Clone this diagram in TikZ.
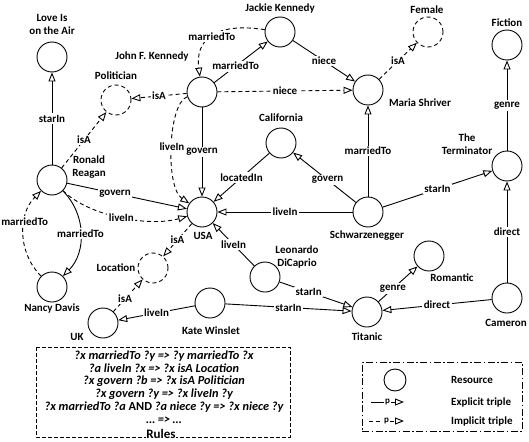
\documentclass[tikz,border=0pt]{standalone}
\usepackage{fontspec}
\setmainfont{Carlito}
\usetikzlibrary{arrows.meta,positioning}

\begin{document}
\begin{tikzpicture}[
  x=1pt,y=-1pt,
  font=\fontsize{11}{13}\selectfont\bfseries,
  res/.style={circle,draw,line width=0.9pt,minimum size=30pt,inner sep=0pt},
  inf/.style={res,dash pattern=on 4pt off 3pt},
  nm/.style={align=center,inner sep=1pt},
  lbl/.style={fill=white,inner sep=1.5pt},
  expl/.style={-{Triangle[open,length=9pt,width=7pt]},line width=0.9pt},
  impl/.style={expl,dash pattern=on 4pt off 3pt},
  legbox/.style={draw,line width=0.9pt,minimum width=160pt,minimum height=69pt,
               dash pattern=on 7pt off 2.5pt on 1.5pt off 2.5pt},
  legtext/.style={nm,anchor=west,font=\fontsize{11}{12}\selectfont\bfseries}
]
\useasboundingbox (0,0) rectangle (529,441);

% Resources
\node[res] (love) at (52,57) {};
\node[nm]  (love-n) at (52,24) {Love Is\\on the Air};
\node[inf] (pol) at (116,100) {};
\node[nm]  (pol-n) at (116,76) {Politician};
\node[res] (jfk) at (202,92) {};
\node[nm]  (jfk-n) at (152,57) {John F. Kennedy};
\node[res] (jac) at (280,32) {};
\node[nm]  (jac-n) at (280,9) {Jackie Kennedy};
\node[inf] (fem) at (428,32) {};
\node[nm]  (fem-n) at (427,10) {Female};
\node[res] (fic) at (507,45) {};
\node[nm]  (fic-n) at (507,23) {Fiction};
\node[res] (mar) at (368,90) {};
\node[nm]  (mar-n) at (420,103) {Maria Shriver};
\node[res] (rr) at (52,180) {};
\node[nm]  (rr-n) at (89,167) {Ronald\\Reagan};
\node[res] (cal) at (281,143) {};
\node[nm]  (cal-n) at (281,118) {California};
\node[res] (ter) at (507,166) {};
\node[nm]  (ter-n) at (467,144) {The\\Terminator};
\node[res] (usa) at (202,212) {};
\node[nm]  (usa-n) at (203,236) {USA};
\node[res] (sch) at (368,212) {};
\node[nm]  (sch-n) at (367,236) {Schwarzenegger};
\node[inf] (loc) at (153,268) {};
\node[nm]  (loc-n) at (116,268) {Location};
\node[res] (leo) at (265,277) {};
\node[nm]  (leo-n) at (297,257) {Leonardo\\DiCaprio};
\node[res] (rom) at (429,256) {};
\node[nm]  (rom-n) at (452,278) {Romantic};
\node[res] (nan) at (52,287) {};
\node[nm]  (nan-n) at (52,309) {Nancy Davis};
\node[res] (uk) at (103,323) {};
\node[nm]  (uk-n) at (77,337) {UK};
\node[res] (kat) at (210,303) {};
\node[nm]  (kat-n) at (211,331) {Kate Winslet};
\node[res] (tit) at (367,312) {};
\node[nm]  (tit-n) at (367,337) {Titanic};
\node[res] (cam) at (507,298) {};
\node[nm]  (cam-n) at (506,323) {Cameron};

% Explicit triples
\draw[expl] (rr) -- node[lbl]{starIn} (love);
\draw[expl] (rr) to[bend left=45] node[lbl]{marriedTo} (nan);
\draw[expl] (rr) -- node[lbl,pos=0.4]{govern} (usa);
\draw[expl] (jfk) -- node[lbl,pos=0.4]{marriedTo} (jac);
\draw[expl] (jfk) -- node[lbl]{govern} (usa);
\draw[expl] (jac) -- node[lbl]{niece} (mar);
\draw[expl] (sch) -- node[lbl]{marriedTo} (mar);
\draw[expl] (cal) -- node[lbl]{locatedIn} (usa);
\draw[expl] (sch) -- node[lbl,pos=0.45]{govern} (cal);
\draw[expl] (sch) -- node[lbl]{liveIn} (usa);
\draw[expl] (sch) -- node[lbl]{starIn} (ter);
\draw[expl] (ter) -- node[lbl]{genre} (fic);
\draw[expl] (cam) -- node[lbl]{direct} (ter);
\draw[expl] (cam) -- node[lbl]{direct} (tit);
\draw[expl] (tit) -- node[lbl,pos=0.37]{genre} (rom);
\draw[expl] (leo) -- node[lbl,pos=0.4]{starIn} (tit);
\draw[expl] (kat) -- node[lbl]{starIn} (tit);
\draw[expl] (leo) -- node[lbl]{liveIn} (usa);
\draw[expl] (kat) -- node[lbl]{liveIn} (uk);

% Implicit triples
\draw[impl] (rr) -- node[lbl]{isA} (pol);
\draw[impl] (nan) to[bend left=45] node[lbl,pos=0.63]{marriedTo} (rr);
\draw[impl] (rr) .. controls (90,217) and (150,227) .. (usa) node[lbl,pos=0.5]{liveIn};
\draw[impl] (jfk) -- node[lbl]{isA} (pol);
\draw[impl] (jac) .. controls (215,22) and (195,40) .. (jfk) node[lbl,pos=0.5]{marriedTo};
\draw[impl] (jfk) -- node[lbl]{niece} (mar);
\draw[impl] (jfk) .. controls (168,103) and (165,187) .. (usa) node[lbl,pos=0.5]{liveIn};
\draw[impl] (mar) -- node[lbl]{isA} (fem);
\draw[impl] (usa) -- node[lbl]{isA} (loc);
\draw[impl] (uk) -- node[lbl,pos=0.4]{isA} (loc);

% Rules
\draw[line width=0.9pt,dash pattern=on 4pt off 2pt] (36,347) rectangle (290,437);
\node[align=center,inner sep=0pt,font=\fontsize{12.3}{12.8}\selectfont\bfseries\itshape] (rules) at (164,387)
  {?x marriedTo ?y => ?y marriedTo ?x\\
   ?a liveIn ?x => ?x isA Location\\
   ?x govern ?b => ?x isA Politician\\
   ?x govern ?y => ?x liveIn ?y\\
   ?x marriedTo ?a \textup{AND} ?a niece ?y => ?x niece ?y\\
   \dots{} => \dots};
\node[fill=white,inner sep=0.5pt,font=\fontsize{13}{14}\selectfont\bfseries] (rules-t) at (161,433.5) {Rules};

% Legend
\node[legbox] (legend) at (442,396.5) {};
\node[res,minimum size=22pt] (leg-res) at (395,380) {};
\node[legtext] (leg-res-t) at (450,380) {Resource};
\coordinate (ex-a) at (371,402);
\coordinate (ex-b) at (404,402);
\draw[expl] (ex-a) -- node[lbl,font=\fontsize{9}{10}\selectfont\bfseries]{p} (ex-b);
\node[legtext] (leg-ex-t) at (450,402) {Explicit triple};
\coordinate (im-a) at (369,421);
\coordinate (im-b) at (404,421);
\draw[impl] (im-a) -- node[lbl,font=\fontsize{9}{10}\selectfont\bfseries]{p} (im-b);
\node[legtext] (leg-im-t) at (450,421) {Implicit triple};
\end{tikzpicture}
\end{document}
